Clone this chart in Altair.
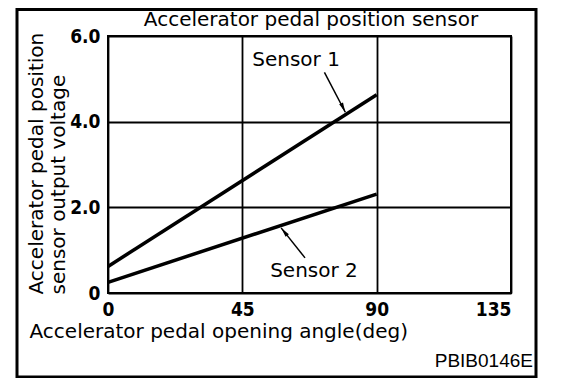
import altair as alt
import pandas as pd

# ---- data ----
angles = [0, 90]
sensor1 = [0.62, 4.63]
sensor2 = [0.25, 2.31]
series_names = ["Sensor 1", "Sensor 2"]

x_ticks = [0, 45, 90, 135]
y_ticks = [0, 2, 4, 6]

label_text = ["Sensor 1", "Sensor 2"]
label_x = [63, 69]
label_y = [5.45, 0.51]

arrow_x0 = [72.5, 66]
arrow_y0 = [5.15, 0.82]
arrow_x1 = [79.5, 58]
arrow_y1 = [4.22, 1.52]

title_text = "Accelerator pedal position sensor"
x_title = "Accelerator pedal opening angle(deg)"
y_title = ["Accelerator pedal position", "sensor output voltage"]
code_text = "PBIB0146E"

# ---- tables ----
rows = []
for name, vals in zip(series_names, [sensor1, sensor2]):
    for a, v in zip(angles, vals):
        rows.append({"series": name, "angle": a, "voltage": v})
lines_df = pd.DataFrame(rows)
labels_df = pd.DataFrame({"text": label_text, "x": label_x, "y": label_y})
arrows_df = pd.DataFrame({"series": series_names, "x0": arrow_x0, "y0": arrow_y0,
                          "x1": arrow_x1, "y1": arrow_y1})

TXT = "DejaVu Sans"
NUM = "DejaVu Sans Condensed, Liberation Sans Narrow, Liberation Sans, Arial, sans-serif"

xscale = alt.Scale(domain=[0, 135], nice=False, zero=False)
yscale = alt.Scale(domain=[0, 6], nice=False)

xaxis = alt.Axis(values=x_ticks, title=x_title, grid=True, ticks=False, domain=False,
                 labelAlign={"expr": "datum.value == 135 ? 'right' : 'center'"},
                 labelPadding=7, titleAlign="left", titleBaseline="alphabetic",
                 titleX=-79, titleY=44, titleAnchor="start", titleFontSize=20)
yaxis = alt.Axis(values=y_ticks, title=y_title, grid=True, ticks=False, domain=False,
                 labelExpr="datum.value == 0 ? '0' : format(datum.value, '.1f')",
                 labelPadding=8, titleAngle=270, titleAlign="left", titleBaseline="middle",
                 titleX=-72, titleY=258, titleLineHeight=22, titleAnchor="start",
                 titleFontSize=20)

base_lines = alt.Chart(lines_df).mark_line(color="black", strokeWidth=3.5, strokeCap="butt").encode(
    x=alt.X("angle:Q", scale=xscale, axis=xaxis),
    y=alt.Y("voltage:Q", scale=yscale, axis=yaxis),
    detail="series:N",
)

arrows = alt.Chart(arrows_df).mark_rule(color="black", strokeWidth=1.5).encode(
    x=alt.X("x0:Q", scale=xscale), y=alt.Y("y0:Q", scale=yscale),
    x2="x1:Q", y2="y1:Q",
)

head_shape = "M0,0L0.6,2.8L-0.6,2.8Z"
head1 = alt.Chart(arrows_df).transform_filter(alt.datum.series == "Sensor 1").mark_point(
    shape=head_shape, size=49, filled=True, color="black", opacity=1, angle=154.5
).encode(x=alt.X("x1:Q", scale=xscale), y=alt.Y("y1:Q", scale=yscale))
head2 = alt.Chart(arrows_df).transform_filter(alt.datum.series == "Sensor 2").mark_point(
    shape=head_shape, size=49, filled=True, color="black", opacity=1, angle=321.5
).encode(x=alt.X("x1:Q", scale=xscale), y=alt.Y("y1:Q", scale=yscale))

labels = alt.Chart(labels_df).mark_text(font=TXT, fontSize=20, color="black",
                                        align="center", baseline="middle").encode(
    x=alt.X("x:Q", scale=xscale), y=alt.Y("y:Q", scale=yscale), text="text:N"
)

one = pd.DataFrame({"t": [code_text], "title": [title_text]})
frame = alt.Chart(one).mark_rect(fillOpacity=0, stroke="black", strokeWidth=3).encode(
    x=alt.value(-91), x2=alt.value(428), y=alt.value(-26.5), y2=alt.value(341)
)
code = alt.Chart(one).mark_text(font="Liberation Sans", fontSize=19, color="black",
                                align="right", baseline="alphabetic").encode(
    x=alt.value(425), y=alt.value(331), text="t:N"
)
title = alt.Chart(one).mark_text(font=TXT, fontSize=20, color="black",
                                 align="center", baseline="alphabetic").encode(
    x=alt.value(203), y=alt.value(-10.5), text="title:N"
)

chart = alt.layer(frame, base_lines, arrows, head1, head2, labels, code, title).properties(
    width=403, height=257,
    autosize=alt.AutoSizeParams(type="none"),
    padding={"left": 100, "top": 28, "right": 50, "bottom": 85},
    background="white",
).configure_view(stroke="black", strokeWidth=2).configure_axis(
    gridColor="black", gridWidth=1.8, gridOpacity=1,
    labelFont=NUM, labelFontWeight="bold", labelFontSize=19, labelColor="black",
    titleFont=TXT, titleFontSize=19, titleFontWeight="normal", titleColor="black",
)

chart.save("out.html", embed_options={"renderer": "svg", "actions": False})
